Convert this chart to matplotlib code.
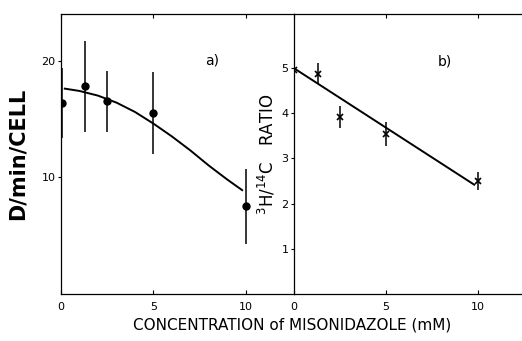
import matplotlib.pyplot as plt

# panel a) counts per cell
conc_a = [0.05, 1.3, 2.5, 5.0, 10.0]
dpm_a = [16.4, 17.8, 16.5, 15.5, 7.5]
err_a = [3.0, 3.9, 2.6, 3.5, 3.2]
fit_a_x = [0.2, 1.0, 2.0, 3.0, 4.0, 5.0, 6.0, 7.0, 8.0, 9.0, 9.8]
fit_a_y = [17.6, 17.4, 17.0, 16.4, 15.6, 14.6, 13.5, 12.3, 11.0, 9.8, 8.9]

# panel b) 3H/14C ratio
conc_b = [0.0, 1.3, 2.5, 5.0, 10.0]
ratio_b = [4.95, 4.88, 3.92, 3.54, 2.5]
err_b = [0.3, 0.24, 0.24, 0.27, 0.19]
fit_b_x = [0.0, 9.8]
fit_b_y = [5.0, 2.42]

fig = plt.figure(figsize=(5.22, 3.41), dpi=100)
ax1 = fig.add_axes([0.117, 0.138, 0.446, 0.821])
ax2 = fig.add_axes([0.563, 0.138, 0.437, 0.821])

for ax in (ax1, ax2):
    ax.tick_params(axis='x', direction='in', length=3, labelsize=8, pad=6,
                   top=True)
    ax.tick_params(axis='y', direction='out', length=2, labelsize=8, pad=2)
    for s in ax.spines.values():
        s.set_linewidth(0.9)

ax1.plot(fit_a_x, fit_a_y, color='black', lw=1.4)
ax1.errorbar(conc_a, dpm_a, yerr=err_a, fmt='o', color='black', ms=5,
             elinewidth=1.1, capsize=0)
ax1.set_xlim(0, 12.6)
ax1.set_ylim(0, 24)
ax1.set_xticks([0, 5, 10])
ax1.set_yticks([10, 20])
ax1.set_ylabel('D/min/CELL', fontsize=15, fontweight='bold', labelpad=10)
ax1.text(8.2, 20, 'a)', fontsize=10, ha='center', va='center')
ax1.spines['right'].set_visible(False)

ax2.plot(fit_b_x, fit_b_y, color='black', lw=1.4)
ax2.errorbar(conc_b, ratio_b, yerr=err_b, fmt='x', color='black', ms=4,
             mew=1.2, elinewidth=1.1, capsize=0)
ax2.set_xlim(0, 12.4)
ax2.set_ylim(0, 6.2)
ax2.set_xticks([0, 5, 10])
ax2.set_yticks([1, 2, 3, 4, 5])
ax2.set_ylabel('$\\mathregular{^3H/^{14}C}$   RATIO', fontsize=12, labelpad=3)
ax2.text(8.2, 5.15, 'b)', fontsize=10, ha='center', va='center')
ax2.spines['right'].set_visible(False)

fig.text(0.56, 0.047, 'CONCENTRATION of MISONIDAZOLE (mM)', fontsize=11,
         ha='center', va='center')

fig.savefig('out.png', dpi=100)
